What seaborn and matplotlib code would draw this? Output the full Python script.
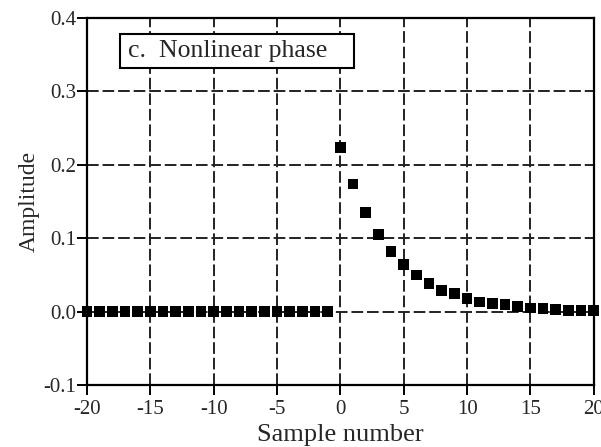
import numpy as np
import pandas as pd
import matplotlib
matplotlib.use('Agg')
import matplotlib.pyplot as plt
from matplotlib.patches import Rectangle
import seaborn as sns

## data
sample = list(range(-20, 21))
amp_neg = [0.0] * 20
amp_pos = [0.224, 0.174, 0.135, 0.105, 0.082, 0.064, 0.050, 0.038, 0.029, 0.025,
           0.018, 0.013, 0.011, 0.010, 0.007, 0.005, 0.004, 0.003, 0.002, 0.002, 0.001]
amplitude = amp_neg + amp_pos
xticks = [-20, -15, -10, -5, 0, 5, 10, 15, 20]
yticks = [-0.1, 0.0, 0.1, 0.2, 0.3, 0.4]

df = pd.DataFrame({'sample': sample, 'amplitude': amplitude})

sns.set_style('white')
plt.rcParams['font.family'] = ['Liberation Serif', 'DejaVu Serif']

fig = plt.figure(figsize=(6.01, 4.47), dpi=100)
ax = fig.add_axes([0.1448, 0.1387, 0.8432, 0.821])

sns.scatterplot(data=df, x='sample', y='amplitude', marker='s', s=60,
                color='black', edgecolor='none', ax=ax, zorder=3, clip_on=False)

ax.set_xlim(-20, 20)
ax.set_ylim(-0.1, 0.4)
ax.set_xticks(xticks)
ax.set_yticks(yticks)
ax.set_xticklabels([str(t) for t in xticks])
ax.set_yticklabels(['%.1f' % t for t in yticks])
ax.grid(True, color='#222222', linestyle=(0, (6, 2)), linewidth=1.4)
for sp in ax.spines.values():
    sp.set_color('black')
    sp.set_linewidth(1.6)
ax.tick_params(axis='both', direction='out', length=7.5, width=1.4, color='black',
               labelsize=15, pad=1, left=True, bottom=True)
ax.tick_params(axis='y', pad=0)
ax.tick_params(axis='x', pad=3)

ax.set_xlabel('Sample number', fontsize=19, labelpad=4)
ax.set_ylabel('Amplitude', fontsize=17, labelpad=3)

# label box in the top left corner
ax.add_patch(Rectangle((-17.4, 0.332), 18.45, 0.046, facecolor='white',
                       edgecolor='black', linewidth=1.5, zorder=5))
ax.text(-16.8, 0.355, 'c.  Nonlinear phase', fontsize=18.5, va='center', ha='left',
        zorder=6)

plt.savefig('out.png', dpi=100)
